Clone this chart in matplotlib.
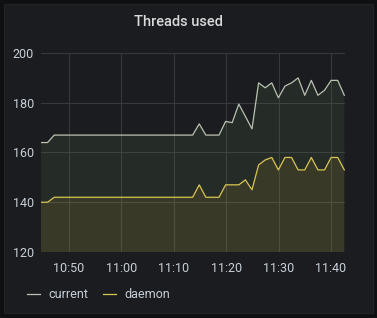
import matplotlib
matplotlib.use("Agg")
import matplotlib.pyplot as plt
import matplotlib.dates as mdates
from matplotlib.patches import Rectangle
import pandas as pd

# ---- data ----
start_time = "2024-01-01 10:44:40"
end_time = "2024-01-01 11:42:32"
current = [164, 164, 167, 167, 167, 167, 167, 167, 167, 167,
           167, 167, 167, 167, 167, 167, 167, 167, 167, 167,
           167, 167, 167, 167, 171.5, 167, 167, 167, 172.5, 172,
           179.5, 174.5, 169.5, 188, 186, 188, 182, 186.7, 188, 190,
           183, 189, 183, 185, 189, 189, 183]
daemon = [140, 140, 142, 142, 142, 142, 142, 142, 142, 142,
          142, 142, 142, 142, 142, 142, 142, 142, 142, 142,
          142, 142, 142, 142, 147, 142, 142, 142, 147, 147,
          147, 149, 145, 155, 157, 158, 153, 158, 158, 153,
          153, 158, 153, 153, 158, 158, 153]
series_names = ["current", "daemon"]
y_ticks = [120, 140, 160, 180, 200]
x_tick_labels = ["10:50", "11:00", "11:10", "11:20", "11:30", "11:40"]
title = "Threads used"

times = pd.date_range(start_time, end_time, periods=len(current))
x_ticks = [pd.Timestamp("2024-01-01 " + s) for s in x_tick_labels]

# ---- style ----
W, H = 377, 318
plt.rcParams["font.family"] = ["Roboto", "DejaVu Sans"]
fig = plt.figure(figsize=(W / 100, H / 100), dpi=100)
fig.patch.set_facecolor("#0f1012")
fig.patches.append(Rectangle((4 / W, 1 - 313 / H), (373 - 4) / W, (313 - 4) / H,
                             transform=fig.transFigure, facecolor="#1b1c1f",
                             edgecolor="#222327", lw=0.8, zorder=-10))

ax = fig.add_axes([41 / W, 1 - 252 / H, (345 - 41) / W, (252 - 53) / H])
ax.set_facecolor("none")

c_cur = "#b9c2b1"
c_dae = "#d9c552"
ax.fill_between(times, current, 0, color="#7eb26d", alpha=0.1, lw=0)
ax.fill_between(times, daemon, 0, color="#eab839", alpha=0.1, lw=0)
ax.plot(times, current, color=c_cur, lw=0.9, label=series_names[0])
ax.plot(times, daemon, color=c_dae, lw=0.9, label=series_names[1])

ax.set_ylim(120, 200)
ax.set_xlim(pd.Timestamp("2024-01-01 10:44:40"), pd.Timestamp("2024-01-01 11:42:40"))
ax.set_yticks(y_ticks)
ax.set_xticks(x_ticks)
ax.set_xticklabels(x_tick_labels)
ax.grid(True, color="#36383c", lw=0.8)
ax.set_axisbelow(True)
for s in ax.spines.values():
    s.set_visible(False)
ax.tick_params(length=0, colors="#c7d0d9", labelsize=9)
ax.tick_params(axis="y", pad=5)
ax.tick_params(axis="x", pad=7)

fig.text(178 / W, 1 - 22 / H, title, ha="center", va="center",
         color="#d8d9da", fontsize=10.5, fontweight="medium")

leg = ax.legend(loc="upper left", bbox_to_anchor=(22 / W, 1 - 283 / H),
                bbox_transform=fig.transFigure, ncol=2, frameon=False,
                fontsize=9, labelcolor="#c7d0d9", handlelength=1.0,
                handletextpad=0.7, columnspacing=1.2, borderaxespad=0)

fig.savefig("out.png", dpi=100, facecolor=fig.get_facecolor())
